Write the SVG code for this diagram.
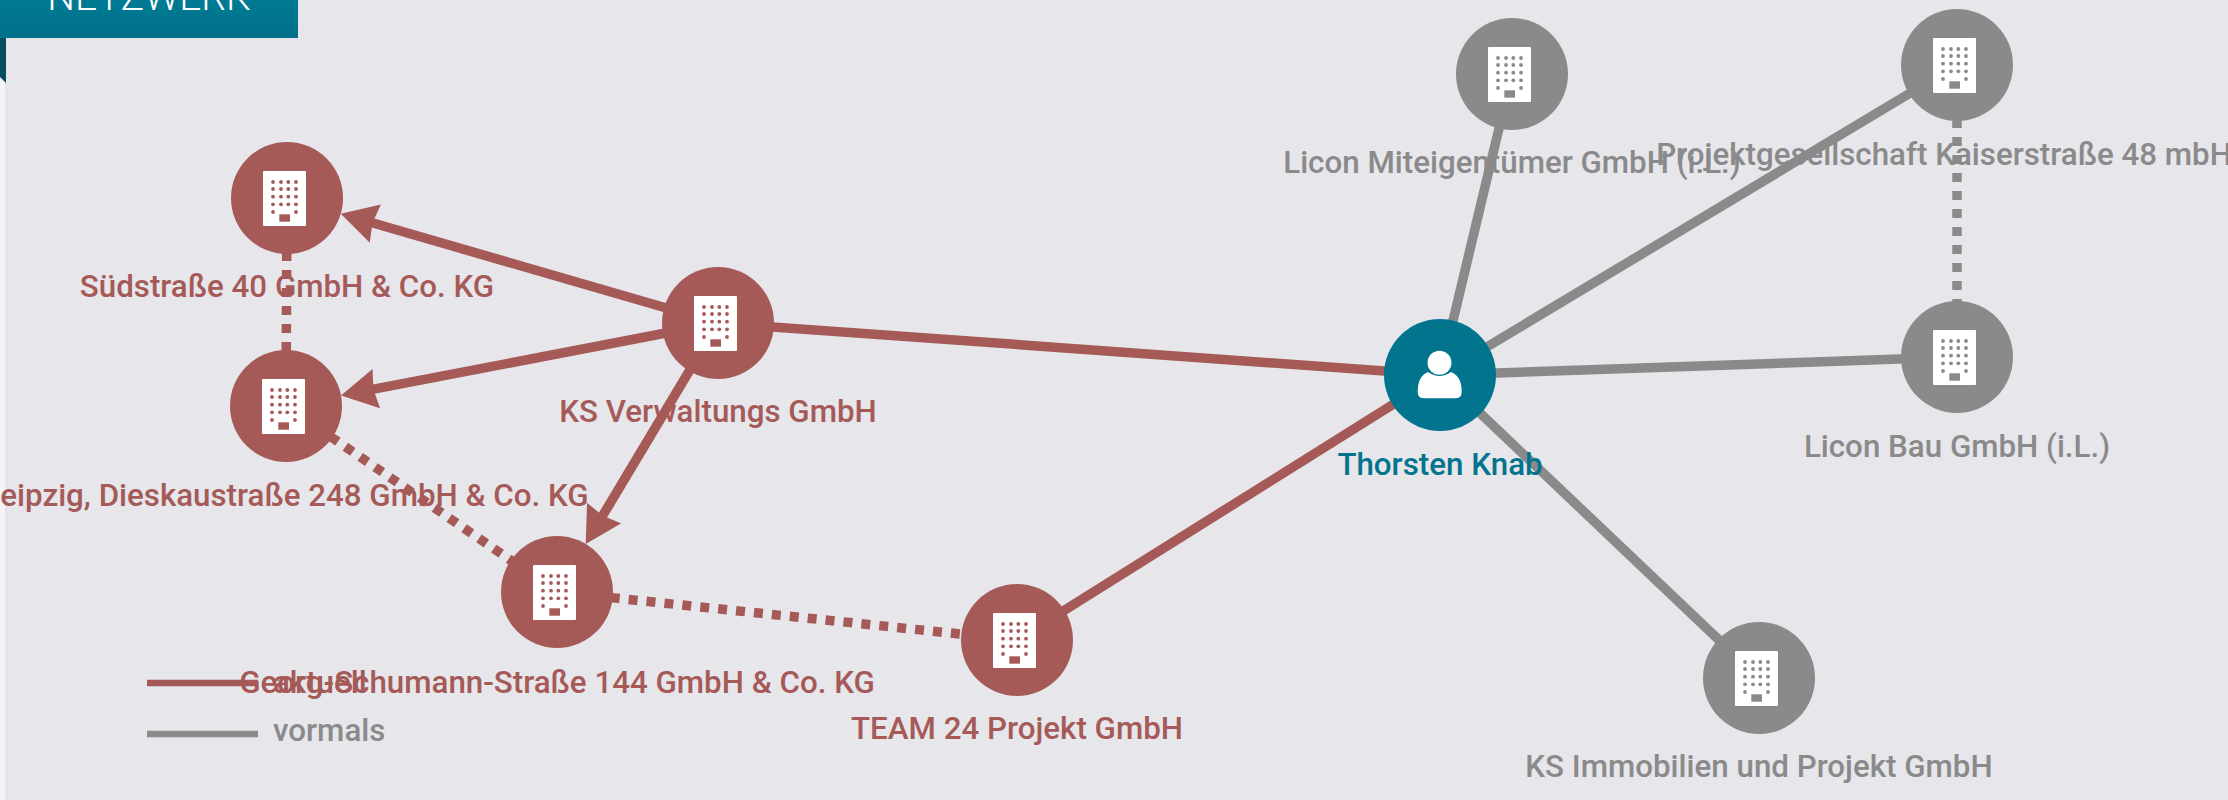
<svg xmlns="http://www.w3.org/2000/svg" width="2228" height="800" viewBox="0 0 2228 800">
<style>
text{font-family:Roboto,"Liberation Sans",sans-serif;font-weight:500;font-size:31.3px;text-anchor:middle}
.r{fill:#a55a58}.g{fill:#8a8a8a}.t{fill:#02748d}
.e{fill:none;stroke-width:9.500}
.er{stroke:#a55a58}.eg{stroke:#8a8a8a}
.d{stroke-dasharray:9 9}
.lg{stroke-width:6.500}
.leg{text-anchor:start}
</style>
<defs>
<marker id="ah" markerUnits="userSpaceOnUse" markerWidth="40" markerHeight="40" viewBox="0 0 40 40" refX="16" refY="20" orient="auto"><path d="M0 0L36 20L0 40L3 20Z" fill="#a55a58"/></marker>
<g id="bld">
<rect x="-24" y="-27" width="43" height="55" rx="1" fill="#fff"/>
<circle cx="-14" cy="-16" r="1.900"/><circle cx="-6" cy="-16" r="1.900"/><circle cx="1.300" cy="-16" r="1.900"/><circle cx="9" cy="-16" r="1.900"/><circle cx="-14" cy="-9" r="1.900"/><circle cx="-6" cy="-9" r="1.900"/><circle cx="1.300" cy="-9" r="1.900"/><circle cx="9" cy="-9" r="1.900"/><circle cx="-14" cy="-1.300" r="1.900"/><circle cx="-6" cy="-1.300" r="1.900"/><circle cx="1.300" cy="-1.300" r="1.900"/><circle cx="9" cy="-1.300" r="1.900"/><circle cx="-14" cy="6.300" r="1.900"/><circle cx="-6" cy="6.300" r="1.900"/><circle cx="1.300" cy="6.300" r="1.900"/><circle cx="9" cy="6.300" r="1.900"/><circle cx="-14" cy="14" r="1.900"/><circle cx="9" cy="14" r="1.900"/>
<rect x="-7.700" y="16.300" width="10.700" height="7.400"/>
</g>
<linearGradient id="hd" x1="0" y1="0" x2="0" y2="1"><stop offset="0" stop-color="#007a94"/><stop offset="1" stop-color="#02708a"/></linearGradient>
</defs>
<rect width="2228" height="800" fill="#e6e6eb"/>
<rect x="0" y="0" width="5" height="800" fill="#f4f4f5"/>
<g id="header">
<path d="M0 38H6V83L0 77Z" fill="#064f60"/>
<rect x="0" y="0" width="298" height="38" fill="url(#hd)"/>
<text x="149" y="10" style="font-size:39px;font-weight:300" fill="#fff">NETZWERK</text>
</g>
<g id="connectors">
<line class="e er" x1="718" y1="323" x2="1440" y2="375"/>
<line class="e er" x1="1440" y1="375" x2="1017" y2="640"/>
<line class="e er" x1="718" y1="323" x2="360" y2="219.200" marker-end="url(#ah)"/>
<line class="e er" x1="718" y1="323" x2="360.600" y2="391.700" marker-end="url(#ah)"/>
<line class="e er" x1="718" y1="323" x2="596" y2="526.800" marker-end="url(#ah)"/>
<line class="e er d" x1="287" y1="198" x2="286" y2="406"/>
<line class="e er d" x1="286" y1="406" x2="557" y2="592"/>
<line class="e er d" x1="557" y1="592" x2="1017" y2="640"/>
<line class="e eg" x1="1440" y1="375" x2="1512" y2="74"/>
<line class="e eg" x1="1440" y1="375" x2="1957" y2="65"/>
<line class="e eg" x1="1440" y1="375" x2="1957" y2="357"/>
<line class="e eg" x1="1440" y1="375" x2="1759" y2="678"/>
<line class="e eg d" x1="1957" y1="65" x2="1957" y2="357"/>
</g>
<g id="n-sued" class="r"><circle cx="287" cy="198" r="56"/><use href="#bld" x="287" y="198"/><text x="287" y="297">Südstraße 40 GmbH &amp; Co. KG</text></g>
<g id="n-ksv" class="r"><circle cx="718" cy="323" r="56"/><use href="#bld" x="718" y="323"/><text x="718" y="422">KS Verwaltungs GmbH</text></g>
<g id="n-leipzig" class="r"><circle cx="286" cy="406" r="56"/><use href="#bld" x="286" y="406"/><text x="286" y="506">Leipzig, Dieskaustraße 248 GmbH &amp; Co. KG</text></g>
<g id="n-georg" class="r"><circle cx="557" cy="592" r="56"/><use href="#bld" x="557" y="592"/><text x="557" y="693">Georg-Schumann-Straße 144 GmbH &amp; Co. KG</text></g>
<g id="n-team" class="r"><circle cx="1017" cy="640" r="56"/><use href="#bld" x="1017" y="640"/><text x="1017" y="739">TEAM 24 Projekt GmbH</text></g>
<g id="n-knab" class="t"><circle cx="1440" cy="375" r="56"/><circle cx="1439.500" cy="362.700" r="12" fill="#fff"/><path d="M1428 372Q1439.500 380 1451 372Q1461.700 376 1461.700 392Q1461.700 398.300 1455 398.300H1424Q1417.700 398.300 1417.700 392Q1417.700 376 1428 372Z" fill="#fff"/><text x="1440" y="475">Thorsten Knab</text></g>
<g id="n-miteig" class="g"><circle cx="1512" cy="74" r="56"/><use href="#bld" x="1512" y="74"/><text x="1512" y="173">Licon Miteigentümer GmbH (i.L.)</text></g>
<g id="n-kaiser" class="g"><circle cx="1957" cy="65" r="56"/><use href="#bld" x="1957" y="65"/><text x="1944" y="165">Projektgesellschaft Kaiserstraße 48 mbH</text></g>
<g id="n-bau" class="g"><circle cx="1957" cy="357" r="56"/><use href="#bld" x="1957" y="357"/><text x="1957" y="457">Licon Bau GmbH (i.L.)</text></g>
<g id="n-immo" class="g"><circle cx="1759" cy="678" r="56"/><use href="#bld" x="1759" y="678"/><text x="1759" y="777">KS Immobilien und Projekt GmbH</text></g>
<g id="legend">
<line class="lg er" x1="147" y1="683" x2="258" y2="683"/>
<line class="lg eg" x1="147" y1="734" x2="258" y2="734"/>
<text class="leg r" x="273" y="693">aktuell</text>
<text class="leg g" x="273" y="741">vormals</text>
</g>
</svg>
